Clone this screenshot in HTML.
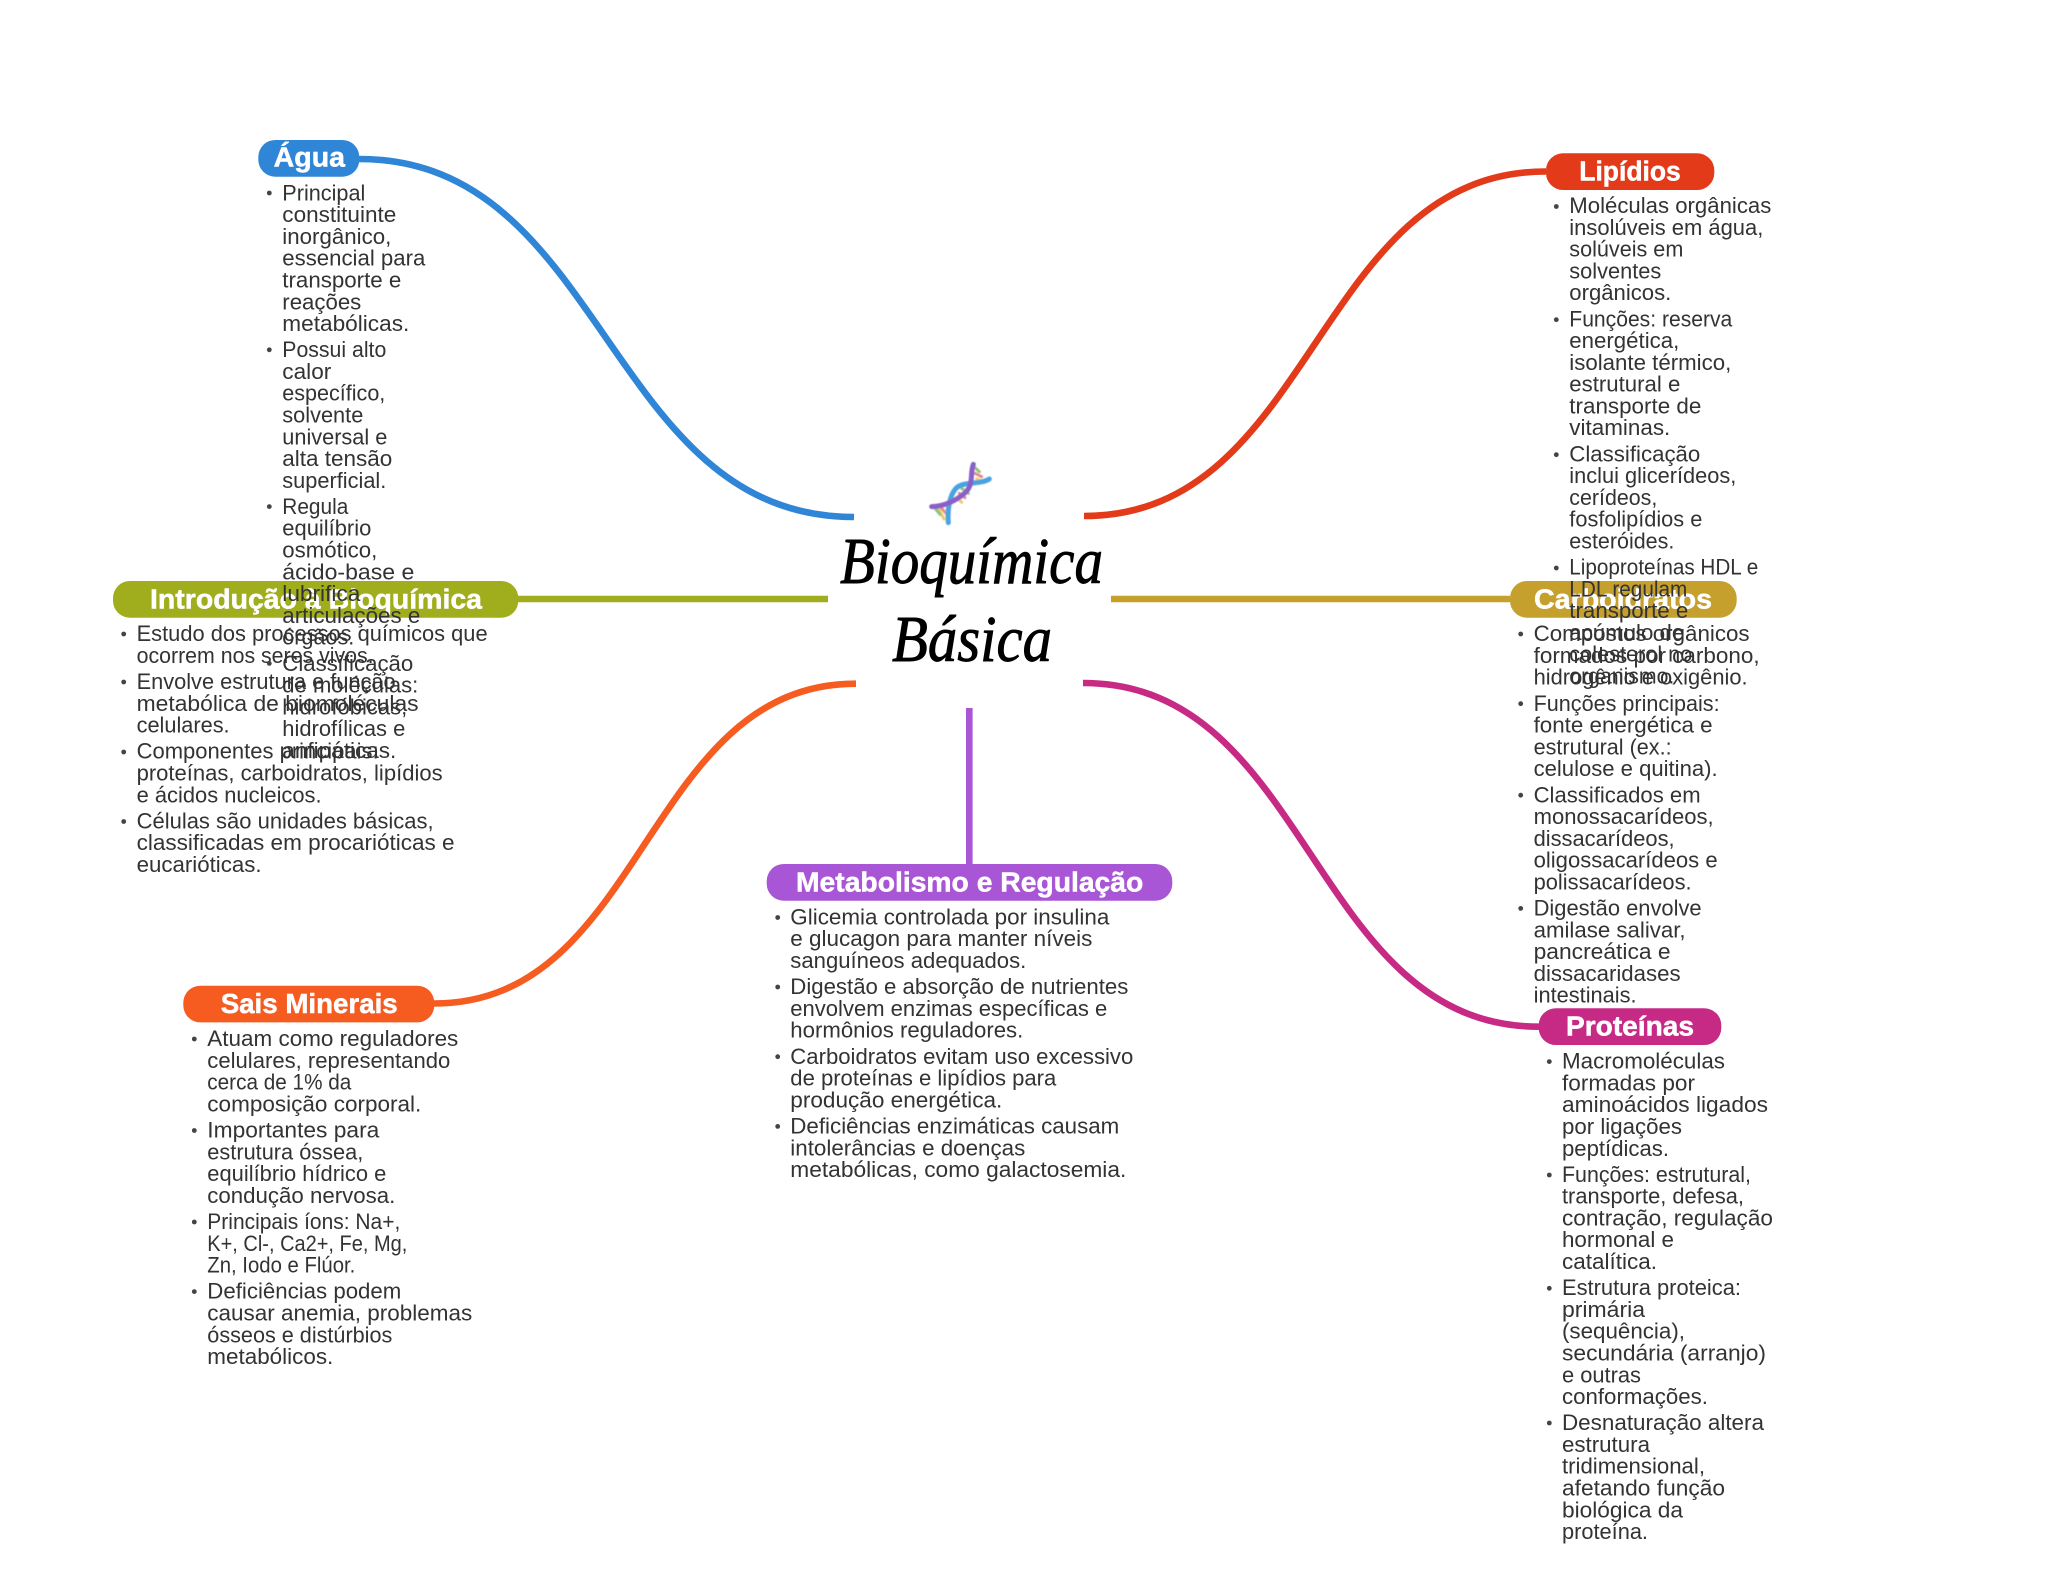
<!DOCTYPE html>
<html lang="pt-BR">
<head>
<meta charset="utf-8">
<title>Bioquímica Básica</title>
<style>
html,body{margin:0;padding:0;background:#fff;width:2048px;height:1569px;overflow:hidden}
svg{display:block}
.t{font-family:"Liberation Sans",sans-serif;font-size:22px;fill:#333;transform:translate(-.7px,.4px)}
.h{font-family:"Liberation Sans",sans-serif;font-size:28px;font-weight:700;fill:#fff;stroke:#fff;stroke-width:.5;transform:translateY(.6px)}
.c{font-family:"Liberation Serif",serif;font-style:italic;font-size:66px;fill:#000;stroke:#000;stroke-width:.9}
.b{fill:#444}
path.l{fill:none;stroke-width:6.6}
</style>
</head>
<body>
<svg width="2048" height="1569" viewBox="0 0 2048 1569" xmlns="http://www.w3.org/2000/svg">
<defs><filter id="bl" x="-10%" y="-10%" width="120%" height="120%"><feGaussianBlur stdDeviation="1.6"/></filter></defs>
<rect width="2048" height="1569" fill="#fff"/>

<!-- connectors -->
<path class="l" stroke="#3086d6" d="M359,159 C606,159 606,517 854,517"/>
<path class="l" stroke="#e33a1a" d="M1546,171.5 C1315,171.5 1315,516 1084,516"/>
<path class="l" stroke="#a0ad1c" d="M518,599 H828"/>
<path class="l" stroke="#c6a02d" d="M1111,599 H1510"/>
<path class="l" stroke="#f65c20" d="M434,1003.5 C645,1003.5 645,683.7 856,683.7"/>
<path class="l" stroke="#c62a85" d="M1083,683 C1311,683 1311,1026.7 1539,1026.7"/>
<path class="l" stroke="#a855d6" d="M969.3,708 V864"/>

<!-- central -->
<g transform="translate(920,455) scale(.3333)" filter="url(#bl)" fill="none" stroke-linecap="round">
<g stroke-width="9">
<path stroke="#f0c96a" d="M170,72 L195,80"/><path stroke="#e88a8a" d="M165,55 L185,65"/><path stroke="#8cc47a" d="M165,38 L178,50"/>
<path stroke="#f0c96a" d="M110,128 L125,142"/><path stroke="#e88a8a" d="M118,115 L135,128"/><path stroke="#8cc47a" d="M125,100 L145,115"/>
<path stroke="#f0c96a" d="M55,160 L72,192"/><path stroke="#e88a8a" d="M65,160 L78,175"/><path stroke="#8cc47a" d="M45,160 L60,178"/>
</g>
<path stroke="#4aa3e0" stroke-width="15" d="M208,72 C180,90 130,78 108,100 C88,122 82,165 85,203"/>
<path stroke="#8a5fc8" stroke-width="15" d="M160,28 C148,60 165,90 130,118 C105,138 70,155 35,155"/>
</g>
<text class="c" x="840" y="583" textLength="263" lengthAdjust="spacingAndGlyphs">Bioquímica</text>
<text class="c" x="892" y="661" textLength="160" lengthAdjust="spacingAndGlyphs">Básica</text>

<!-- Introdução -->
<rect x="113" y="581" width="405.3" height="36.7" rx="17" fill="#a0ad1c"/>
<text class="h" x="150" y="607.7" textLength="332" lengthAdjust="spacingAndGlyphs">Introdução à Bioquímica</text>
<g class="b"><circle cx="123.7" cy="634" r="2.4"/><circle cx="123.7" cy="682" r="2.4"/><circle cx="123.7" cy="752" r="2.4"/><circle cx="123.7" cy="821.5" r="2.4"/></g>
<text class="t" x="137.3" y="640.7" textLength="351" lengthAdjust="spacingAndGlyphs">Estudo dos processos químicos que</text>
<text class="t" x="137.3" y="662.5" textLength="237" lengthAdjust="spacingAndGlyphs">ocorrem nos seres vivos.</text>
<text class="t" x="137.3" y="688.6" textLength="259" lengthAdjust="spacingAndGlyphs">Envolve estrutura e função</text>
<text class="t" x="137.3" y="710.4" textLength="282" lengthAdjust="spacingAndGlyphs">metabólica de biomoléculas</text>
<text class="t" x="137.3" y="732.2" textLength="93" lengthAdjust="spacingAndGlyphs">celulares.</text>
<text class="t" x="137.3" y="758.3" textLength="242" lengthAdjust="spacingAndGlyphs">Componentes principais:</text>
<text class="t" x="137.3" y="780.1" textLength="306" lengthAdjust="spacingAndGlyphs">proteínas, carboidratos, lipídios</text>
<text class="t" x="137.3" y="801.9" textLength="185" lengthAdjust="spacingAndGlyphs">e ácidos nucleicos.</text>
<text class="t" x="137.3" y="828" textLength="297" lengthAdjust="spacingAndGlyphs">Células são unidades básicas,</text>
<text class="t" x="137.3" y="849.8" textLength="318" lengthAdjust="spacingAndGlyphs">classificadas em procarióticas e</text>
<text class="t" x="137.3" y="871.6" textLength="125" lengthAdjust="spacingAndGlyphs">eucarióticas.</text>

<!-- Carboidratos -->
<rect x="1510" y="581" width="226.7" height="36.7" rx="17" fill="#c6a02d"/>
<text class="h" x="1534" y="607.7" textLength="178" lengthAdjust="spacingAndGlyphs">Carboidratos</text>
<g class="b"><circle cx="1520.7" cy="634" r="2.4"/><circle cx="1520.7" cy="703.7" r="2.4"/><circle cx="1520.7" cy="795.2" r="2.4"/><circle cx="1520.7" cy="908.4" r="2.4"/></g>
<text class="t" x="1534.3" y="640.7" textLength="216" lengthAdjust="spacingAndGlyphs">Compostos orgânicos</text>
<text class="t" x="1534.3" y="662.5" textLength="226" lengthAdjust="spacingAndGlyphs">formados por carbono,</text>
<text class="t" x="1534.3" y="684.2" textLength="214" lengthAdjust="spacingAndGlyphs">hidrogênio e oxigênio.</text>
<text class="t" x="1534.3" y="710.4" textLength="186" lengthAdjust="spacingAndGlyphs">Funções principais:</text>
<text class="t" x="1534.3" y="732.2" textLength="179" lengthAdjust="spacingAndGlyphs">fonte energética e</text>
<text class="t" x="1534.3" y="753.9" textLength="138" lengthAdjust="spacingAndGlyphs">estrutural (ex.:</text>
<text class="t" x="1534.3" y="775.7" textLength="184" lengthAdjust="spacingAndGlyphs">celulose e quitina).</text>
<text class="t" x="1534.3" y="801.9" textLength="167" lengthAdjust="spacingAndGlyphs">Classificados em</text>
<text class="t" x="1534.3" y="823.7" textLength="180" lengthAdjust="spacingAndGlyphs">monossacarídeos,</text>
<text class="t" x="1534.3" y="845.4" textLength="141" lengthAdjust="spacingAndGlyphs">dissacarídeos,</text>
<text class="t" x="1534.3" y="867.2" textLength="184" lengthAdjust="spacingAndGlyphs">oligossacarídeos e</text>
<text class="t" x="1534.3" y="889" textLength="158" lengthAdjust="spacingAndGlyphs">polissacarídeos.</text>
<text class="t" x="1534.3" y="915.1" textLength="168" lengthAdjust="spacingAndGlyphs">Digestão envolve</text>
<text class="t" x="1534.3" y="936.9" textLength="152" lengthAdjust="spacingAndGlyphs">amilase salivar,</text>
<text class="t" x="1534.3" y="958.7" textLength="137" lengthAdjust="spacingAndGlyphs">pancreática e</text>
<text class="t" x="1534.3" y="980.4" textLength="147" lengthAdjust="spacingAndGlyphs">dissacaridases</text>
<text class="t" x="1534.3" y="1002.2" textLength="103" lengthAdjust="spacingAndGlyphs">intestinais.</text>

<!-- Água -->
<rect x="258.3" y="140" width="101" height="36.7" rx="17" fill="#3086d6"/>
<text class="h" x="273.7" y="166" textLength="71.3" lengthAdjust="spacingAndGlyphs">Água</text>
<g class="b"><circle cx="269.3" cy="193" r="2.4"/><circle cx="269.3" cy="349.8" r="2.4"/><circle cx="269.3" cy="506.6" r="2.4"/><circle cx="269.3" cy="663.4" r="2.4"/></g>
<text class="t" x="283" y="200" textLength="83" lengthAdjust="spacingAndGlyphs">Principal</text>
<text class="t" x="283" y="221.8" textLength="114" lengthAdjust="spacingAndGlyphs">constituinte</text>
<text class="t" x="283" y="243.5" textLength="109" lengthAdjust="spacingAndGlyphs">inorgânico,</text>
<text class="t" x="283" y="265.3" textLength="143" lengthAdjust="spacingAndGlyphs">essencial para</text>
<text class="t" x="283" y="287.1" textLength="119" lengthAdjust="spacingAndGlyphs">transporte e</text>
<text class="t" x="283" y="308.9" textLength="79" lengthAdjust="spacingAndGlyphs">reações</text>
<text class="t" x="283" y="330.6" textLength="127" lengthAdjust="spacingAndGlyphs">metabólicas.</text>
<text class="t" x="283" y="356.8" textLength="104" lengthAdjust="spacingAndGlyphs">Possui alto</text>
<text class="t" x="283" y="378.6" textLength="49" lengthAdjust="spacingAndGlyphs">calor</text>
<text class="t" x="283" y="400.3" textLength="103" lengthAdjust="spacingAndGlyphs">específico,</text>
<text class="t" x="283" y="422.1" textLength="81" lengthAdjust="spacingAndGlyphs">solvente</text>
<text class="t" x="283" y="443.9" textLength="105" lengthAdjust="spacingAndGlyphs">universal e</text>
<text class="t" x="283" y="465.6" textLength="110" lengthAdjust="spacingAndGlyphs">alta tensão</text>
<text class="t" x="283" y="487.4" textLength="104" lengthAdjust="spacingAndGlyphs">superficial.</text>
<text class="t" x="283" y="513.6" textLength="66" lengthAdjust="spacingAndGlyphs">Regula</text>
<text class="t" x="283" y="535.3" textLength="89" lengthAdjust="spacingAndGlyphs">equilíbrio</text>
<text class="t" x="283" y="557.1" textLength="95" lengthAdjust="spacingAndGlyphs">osmótico,</text>
<text class="t" x="283" y="578.9" textLength="132" lengthAdjust="spacingAndGlyphs">ácido-base e</text>
<text class="t" x="283" y="600.7" textLength="78" lengthAdjust="spacingAndGlyphs">lubrifica</text>
<text class="t" x="283" y="622.4" textLength="138" lengthAdjust="spacingAndGlyphs">articulações e</text>
<text class="t" x="283" y="644.2" textLength="72" lengthAdjust="spacingAndGlyphs">órgãos.</text>
<text class="t" x="283" y="670.4" textLength="131" lengthAdjust="spacingAndGlyphs">Classificação</text>
<text class="t" x="283" y="692.1" textLength="136" lengthAdjust="spacingAndGlyphs">de moléculas:</text>
<text class="t" x="283" y="713.9" textLength="125" lengthAdjust="spacingAndGlyphs">hidrofóbicas,</text>
<text class="t" x="283" y="735.7" textLength="123" lengthAdjust="spacingAndGlyphs">hidrofílicas e</text>
<text class="t" x="283" y="757.5" textLength="114" lengthAdjust="spacingAndGlyphs">anfipáticas.</text>

<!-- Lipídios -->
<rect x="1546" y="153.3" width="168.3" height="36.7" rx="17" fill="#e33a1a"/>
<text class="h" x="1579.3" y="180" textLength="101.4" lengthAdjust="spacingAndGlyphs">Lipídios</text>
<g class="b"><circle cx="1556.3" cy="206.5" r="2.4"/><circle cx="1556.3" cy="319.7" r="2.4"/><circle cx="1556.3" cy="454.7" r="2.4"/><circle cx="1556.3" cy="568" r="2.4"/></g>
<text class="t" x="1570" y="212.7" textLength="202" lengthAdjust="spacingAndGlyphs">Moléculas orgânicas</text>
<text class="t" x="1570" y="234.5" textLength="194" lengthAdjust="spacingAndGlyphs">insolúveis em água,</text>
<text class="t" x="1570" y="256.2" textLength="114" lengthAdjust="spacingAndGlyphs">solúveis em</text>
<text class="t" x="1570" y="278" textLength="92" lengthAdjust="spacingAndGlyphs">solventes</text>
<text class="t" x="1570" y="299.8" textLength="102" lengthAdjust="spacingAndGlyphs">orgânicos.</text>
<text class="t" x="1570" y="325.9" textLength="163" lengthAdjust="spacingAndGlyphs">Funções: reserva</text>
<text class="t" x="1570" y="347.7" textLength="110" lengthAdjust="spacingAndGlyphs">energética,</text>
<text class="t" x="1570" y="369.5" textLength="162" lengthAdjust="spacingAndGlyphs">isolante térmico,</text>
<text class="t" x="1570" y="391.2" textLength="111" lengthAdjust="spacingAndGlyphs">estrutural e</text>
<text class="t" x="1570" y="413" textLength="132" lengthAdjust="spacingAndGlyphs">transporte de</text>
<text class="t" x="1570" y="434.8" textLength="101" lengthAdjust="spacingAndGlyphs">vitaminas.</text>
<text class="t" x="1570" y="460.9" textLength="131" lengthAdjust="spacingAndGlyphs">Classificação</text>
<text class="t" x="1570" y="482.7" textLength="167" lengthAdjust="spacingAndGlyphs">inclui glicerídeos,</text>
<text class="t" x="1570" y="504.5" textLength="88" lengthAdjust="spacingAndGlyphs">cerídeos,</text>
<text class="t" x="1570" y="526.3" textLength="133" lengthAdjust="spacingAndGlyphs">fosfolipídios e</text>
<text class="t" x="1570" y="548" textLength="105" lengthAdjust="spacingAndGlyphs">esteróides.</text>
<text class="t" x="1570" y="574.2" textLength="189" lengthAdjust="spacingAndGlyphs">Lipoproteínas HDL e</text>
<text class="t" x="1570" y="596" textLength="118" lengthAdjust="spacingAndGlyphs">LDL regulam</text>
<text class="t" x="1570" y="617.7" textLength="119" lengthAdjust="spacingAndGlyphs">transporte e</text>
<text class="t" x="1570" y="639.5" textLength="115" lengthAdjust="spacingAndGlyphs">acúmulo de</text>
<text class="t" x="1570" y="661.3" textLength="123" lengthAdjust="spacingAndGlyphs">colesterol no</text>
<text class="t" x="1570" y="683.1" textLength="105" lengthAdjust="spacingAndGlyphs">organismo.</text>

<!-- Sais Minerais -->
<rect x="183.3" y="985.7" width="251" height="36.7" rx="17" fill="#f65c20"/>
<text class="h" x="220.7" y="1012.3" textLength="177" lengthAdjust="spacingAndGlyphs">Sais Minerais</text>
<g class="b"><circle cx="194.3" cy="1039" r="2.4"/><circle cx="194.3" cy="1130.5" r="2.4"/><circle cx="194.3" cy="1222" r="2.4"/><circle cx="194.3" cy="1291.6" r="2.4"/></g>
<text class="t" x="208" y="1045.7" textLength="251" lengthAdjust="spacingAndGlyphs">Atuam como reguladores</text>
<text class="t" x="208" y="1067.5" textLength="243" lengthAdjust="spacingAndGlyphs">celulares, representando</text>
<text class="t" x="208" y="1089.2" textLength="144" lengthAdjust="spacingAndGlyphs">cerca de 1% da</text>
<text class="t" x="208" y="1111" textLength="214" lengthAdjust="spacingAndGlyphs">composição corporal.</text>
<text class="t" x="208" y="1137.2" textLength="172" lengthAdjust="spacingAndGlyphs">Importantes para</text>
<text class="t" x="208" y="1158.9" textLength="156" lengthAdjust="spacingAndGlyphs">estrutura óssea,</text>
<text class="t" x="208" y="1180.7" textLength="179" lengthAdjust="spacingAndGlyphs">equilíbrio hídrico e</text>
<text class="t" x="208" y="1202.5" textLength="188" lengthAdjust="spacingAndGlyphs">condução nervosa.</text>
<text class="t" x="208" y="1228.6" textLength="193" lengthAdjust="spacingAndGlyphs">Principais íons: Na+,</text>
<text class="t" x="208" y="1250.4" textLength="200" lengthAdjust="spacingAndGlyphs">K+, Cl-, Ca2+, Fe, Mg,</text>
<text class="t" x="208" y="1272.2" textLength="148" lengthAdjust="spacingAndGlyphs">Zn, Iodo e Flúor.</text>
<text class="t" x="208" y="1298.3" textLength="194" lengthAdjust="spacingAndGlyphs">Deficiências podem</text>
<text class="t" x="208" y="1320.1" textLength="265" lengthAdjust="spacingAndGlyphs">causar anemia, problemas</text>
<text class="t" x="208" y="1341.9" textLength="185" lengthAdjust="spacingAndGlyphs">ósseos e distúrbios</text>
<text class="t" x="208" y="1363.6" textLength="126" lengthAdjust="spacingAndGlyphs">metabólicos.</text>

<!-- Metabolismo -->
<rect x="766.7" y="864" width="405.6" height="36.7" rx="17" fill="#a855d6"/>
<text class="h" x="796" y="890.7" textLength="347.3" lengthAdjust="spacingAndGlyphs">Metabolismo e Regulação</text>
<g class="b"><circle cx="777.7" cy="917.5" r="2.4"/><circle cx="777.7" cy="987" r="2.4"/><circle cx="777.7" cy="1056.7" r="2.4"/><circle cx="777.7" cy="1126.4" r="2.4"/></g>
<text class="t" x="791" y="924" textLength="319" lengthAdjust="spacingAndGlyphs">Glicemia controlada por insulina</text>
<text class="t" x="791" y="945.8" textLength="302" lengthAdjust="spacingAndGlyphs">e glucagon para manter níveis</text>
<text class="t" x="791" y="967.5" textLength="236" lengthAdjust="spacingAndGlyphs">sanguíneos adequados.</text>
<text class="t" x="791" y="993.7" textLength="338" lengthAdjust="spacingAndGlyphs">Digestão e absorção de nutrientes</text>
<text class="t" x="791" y="1015.5" textLength="317" lengthAdjust="spacingAndGlyphs">envolvem enzimas específicas e</text>
<text class="t" x="791" y="1037.2" textLength="233" lengthAdjust="spacingAndGlyphs">hormônios reguladores.</text>
<text class="t" x="791" y="1063.4" textLength="343" lengthAdjust="spacingAndGlyphs">Carboidratos evitam uso excessivo</text>
<text class="t" x="791" y="1085.2" textLength="266" lengthAdjust="spacingAndGlyphs">de proteínas e lipídios para</text>
<text class="t" x="791" y="1106.9" textLength="212" lengthAdjust="spacingAndGlyphs">produção energética.</text>
<text class="t" x="791" y="1133.1" textLength="329" lengthAdjust="spacingAndGlyphs">Deficiências enzimáticas causam</text>
<text class="t" x="791" y="1154.9" textLength="235" lengthAdjust="spacingAndGlyphs">intolerâncias e doenças</text>
<text class="t" x="791" y="1176.6" textLength="336" lengthAdjust="spacingAndGlyphs">metabólicas, como galactosemia.</text>

<!-- Proteínas -->
<rect x="1538.7" y="1008.3" width="182.6" height="36.7" rx="17" fill="#c62a85"/>
<text class="h" x="1566" y="1035" textLength="128" lengthAdjust="spacingAndGlyphs">Proteínas</text>
<g class="b"><circle cx="1549.3" cy="1061.6" r="2.4"/><circle cx="1549.3" cy="1175" r="2.4"/><circle cx="1549.3" cy="1288.3" r="2.4"/><circle cx="1549.3" cy="1423" r="2.4"/></g>
<text class="t" x="1562.7" y="1068.3" textLength="163" lengthAdjust="spacingAndGlyphs">Macromoléculas</text>
<text class="t" x="1562.7" y="1090.1" textLength="133" lengthAdjust="spacingAndGlyphs">formadas por</text>
<text class="t" x="1562.7" y="1111.8" textLength="206" lengthAdjust="spacingAndGlyphs">aminoácidos ligados</text>
<text class="t" x="1562.7" y="1133.6" textLength="120" lengthAdjust="spacingAndGlyphs">por ligações</text>
<text class="t" x="1562.7" y="1155.4" textLength="107" lengthAdjust="spacingAndGlyphs">peptídicas.</text>
<text class="t" x="1562.7" y="1181.5" textLength="189" lengthAdjust="spacingAndGlyphs">Funções: estrutural,</text>
<text class="t" x="1562.7" y="1203.3" textLength="182" lengthAdjust="spacingAndGlyphs">transporte, defesa,</text>
<text class="t" x="1562.7" y="1225.1" textLength="211" lengthAdjust="spacingAndGlyphs">contração, regulação</text>
<text class="t" x="1562.7" y="1246.8" textLength="112" lengthAdjust="spacingAndGlyphs">hormonal e</text>
<text class="t" x="1562.7" y="1268.6" textLength="95" lengthAdjust="spacingAndGlyphs">catalítica.</text>
<text class="t" x="1562.7" y="1294.8" textLength="179" lengthAdjust="spacingAndGlyphs">Estrutura proteica:</text>
<text class="t" x="1562.7" y="1316.5" textLength="83" lengthAdjust="spacingAndGlyphs">primária</text>
<text class="t" x="1562.7" y="1338.3" textLength="123" lengthAdjust="spacingAndGlyphs">(sequência),</text>
<text class="t" x="1562.7" y="1360.1" textLength="204" lengthAdjust="spacingAndGlyphs">secundária (arranjo)</text>
<text class="t" x="1562.7" y="1381.9" textLength="79" lengthAdjust="spacingAndGlyphs">e outras</text>
<text class="t" x="1562.7" y="1403.6" textLength="146" lengthAdjust="spacingAndGlyphs">conformações.</text>
<text class="t" x="1562.7" y="1429.8" textLength="202" lengthAdjust="spacingAndGlyphs">Desnaturação altera</text>
<text class="t" x="1562.7" y="1451.6" textLength="88" lengthAdjust="spacingAndGlyphs">estrutura</text>
<text class="t" x="1562.7" y="1473.3" textLength="143" lengthAdjust="spacingAndGlyphs">tridimensional,</text>
<text class="t" x="1562.7" y="1495.1" textLength="163" lengthAdjust="spacingAndGlyphs">afetando função</text>
<text class="t" x="1562.7" y="1516.9" textLength="121" lengthAdjust="spacingAndGlyphs">biológica da</text>
<text class="t" x="1562.7" y="1538.6" textLength="86" lengthAdjust="spacingAndGlyphs">proteína.</text>
</svg>
</body>
</html>
